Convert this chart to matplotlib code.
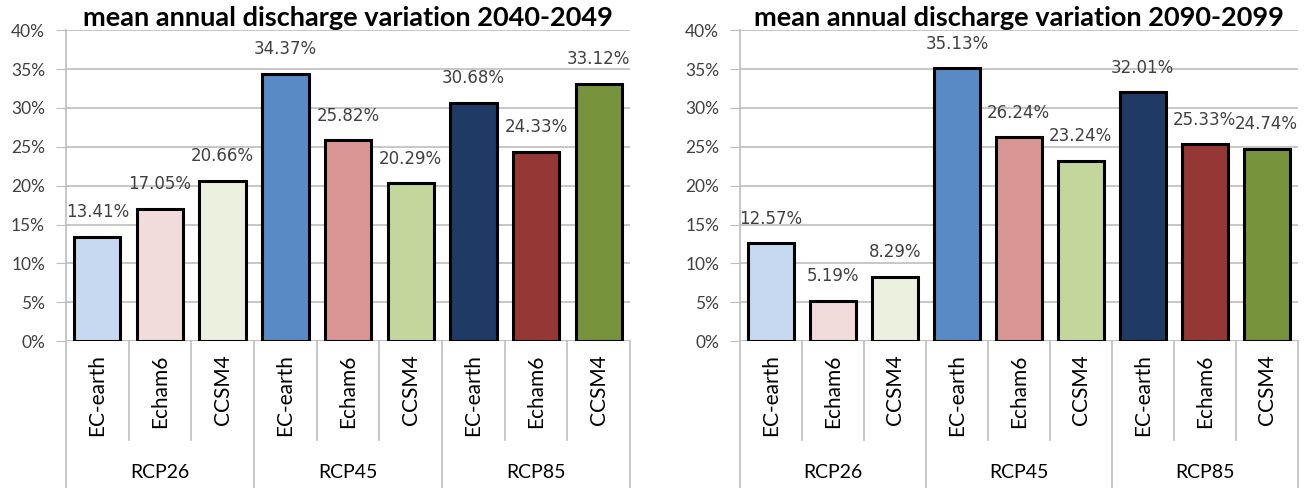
"""
Mean annual discharge variation per GCM and RCP scenario
Two bar panels (2040-2049 and 2090-2099) with a two-level category axis
"""

import numpy as np
import matplotlib
matplotlib.use('Agg')
import matplotlib.pyplot as plt
from matplotlib.ticker import PercentFormatter

models = ['EC-earth', 'Echam6', 'CCSM4']
scenarios = ['RCP26', 'RCP45', 'RCP85']

# percent change of mean annual discharge, order: RCP26, RCP45, RCP85 x models
change_2040 = [13.41, 17.05, 20.66, 34.37, 25.82, 20.29, 30.68, 24.33, 33.12]
change_2090 = [12.57, 5.19, 8.29, 35.13, 26.24, 23.24, 32.01, 25.33, 24.74]

bar_colors = ['#C6D9F1', '#F2DCDB', '#EBF1DE',
              '#5A8AC6', '#D99694', '#C3D69B',
              '#1F3A64', '#953735', '#77933C']

GRID = '#BDBDBD'
TEXT = '#404040'


def draw_panel(ax, values, title):
    n = len(values)
    x = np.arange(n)
    ax.bar(x, values, width=0.74, color=bar_colors, edgecolor='black',
           linewidth=2.2, zorder=3)

    for xi, v in zip(x, values):
        ax.text(xi, v + 2.0, f'{v:.2f}%', ha='center', va='bottom',
                fontsize=12, color=TEXT, family='DejaVu Sans', zorder=4)

    ax.set_xlim(-0.5, n - 0.5)
    ax.set_ylim(0, 40)
    ax.set_yticks(np.arange(0, 41, 5))
    ax.yaxis.set_major_formatter(PercentFormatter(decimals=0))
    ax.grid(axis='y', color=GRID, linewidth=1.2, zorder=0)
    ax.tick_params(axis='y', length=7, color=GRID, labelsize=12.5,
                   labelcolor=TEXT, pad=8)
    for lab in ax.get_yticklabels():
        lab.set_family('Lato')
    ax.set_xticks([])
    for side in ['top', 'right', 'bottom']:
        ax.spines[side].set_visible(False)
    ax.spines['left'].set_color(GRID)
    ax.spines['left'].set_linewidth(1.2)

    # gridline at 0 sits on top of bar bottoms
    ax.axhline(0, color=GRID, linewidth=1.2, zorder=2)

    # two-level category axis below the plot
    y_inner = -12.7
    y_outer = -19.0
    for b in range(n + 1):
        low = y_outer if b % 3 == 0 else y_inner
        ax.plot([b - 0.5, b - 0.5], [0, low], color=GRID, linewidth=1.2,
                clip_on=False, zorder=1)
    for xi in x:
        ax.text(xi, -1.7, models[xi % 3], rotation=90, ha='center', va='top',
                fontsize=15, color='black', family='Lato')
    for g, name in enumerate(scenarios):
        ax.text(3 * g + 1, -16.85, name, ha='center', va='center',
                fontsize=14, color='black', family='Lato')

    ax.set_title(title, fontsize=19.5, fontweight='bold', family='Lato',
                 color='black', pad=0.5)


fig = plt.figure(figsize=(13.06, 4.88), dpi=100)
ax1 = fig.add_axes([0.0505, 0.301, 0.432, 0.637])
ax2 = fig.add_axes([0.5666, 0.301, 0.427, 0.637])

draw_panel(ax1, change_2040, 'mean annual discharge variation 2040-2049')
draw_panel(ax2, change_2090, 'mean annual discharge variation 2090-2099')

fig.savefig('out.png', dpi=100)
plt.close(fig)
